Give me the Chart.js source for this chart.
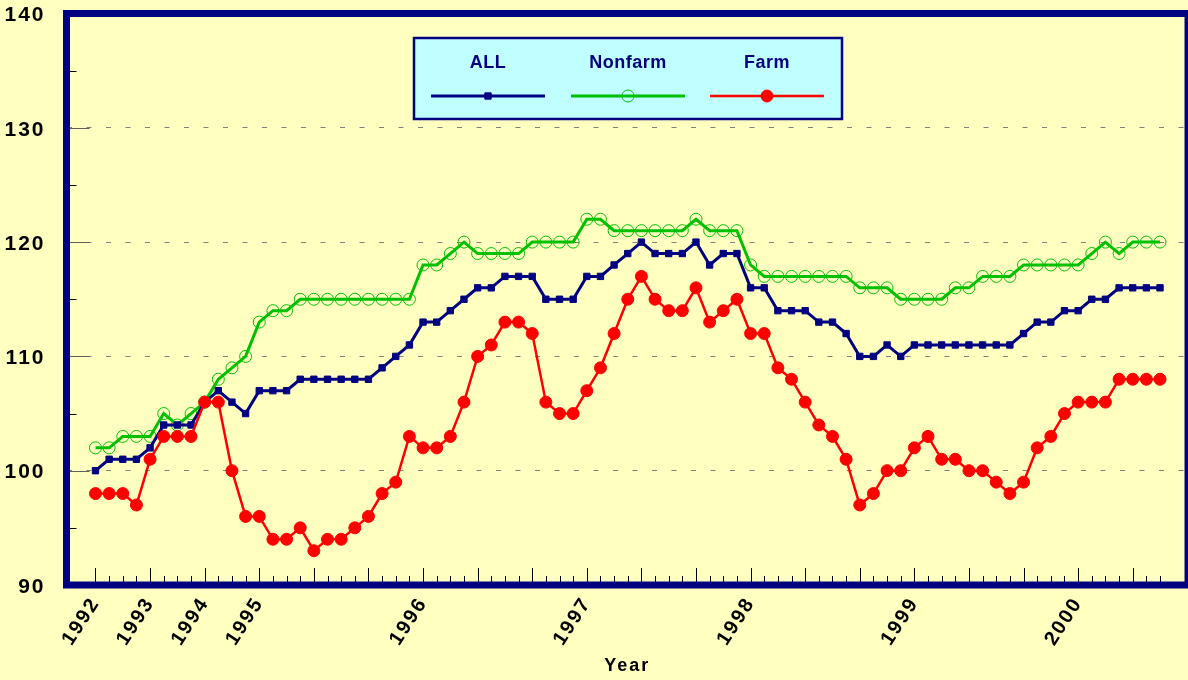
<!DOCTYPE html>
<html>
<head>
<meta charset="utf-8">
<title>Index 1992-2000</title>
<script src="https://cdn.jsdelivr.net/npm/chart.js@4.4.1/dist/chart.umd.min.js"></script>
<style>
  html, body { margin: 0; padding: 0; background: #ffffc0; }
  #wrap { width: 1188px; height: 680px; }
</style>
</head>
<body>
<div id="wrap"><canvas id="indexChart" width="1188" height="680"></canvas></div>
<script>
// quarterly 1992-1994, monthly from 1995 on
const yearLabels = ["1992", "1993", "1994", "1995", "1996", "1997", "1998", "1999", "2000"];
const yearIndex = [0, 4, 8, 12, 24, 36, 48, 60, 72];

const seriesNames = ["ALL", "Nonfarm", "Farm"];

const allValues = [
    100, 101, 101, 101, 102, 104, 104, 104, 106, 107, 106, 105,
    107, 107, 107, 108, 108, 108, 108, 108, 108, 109, 110, 111,
    113, 113, 114, 115, 116, 116, 117, 117, 117, 115, 115, 115,
    117, 117, 118, 119, 120, 119, 119, 119, 120, 118, 119, 119,
    116, 116, 114, 114, 114, 113, 113, 112, 110, 110, 111, 110,
    111, 111, 111, 111, 111, 111, 111, 111, 112, 113, 113, 114,
    114, 115, 115, 116, 116, 116, 116
];
const nonfarmValues = [
    102, 102, 103, 103, 103, 105, 104, 105, 106, 108, 109, 110,
    113, 114, 114, 115, 115, 115, 115, 115, 115, 115, 115, 115,
    118, 118, 119, 120, 119, 119, 119, 119, 120, 120, 120, 120,
    122, 122, 121, 121, 121, 121, 121, 121, 122, 121, 121, 121,
    118, 117, 117, 117, 117, 117, 117, 117, 116, 116, 116, 115,
    115, 115, 115, 116, 116, 117, 117, 117, 118, 118, 118, 118,
    118, 119, 120, 119, 120, 120, 120
];
const farmValues = [
    98, 98, 98, 97, 101, 103, 103, 103, 106, 106, 100, 96,
    96, 94, 94, 95, 93, 94, 94, 95, 96, 98, 99, 103,
    102, 102, 103, 106, 110, 111, 113, 113, 112, 106, 105, 105,
    107, 109, 112, 115, 117, 115, 114, 114, 116, 113, 114, 115,
    112, 112, 109, 108, 106, 104, 103, 101, 97, 98, 100, 100,
    102, 103, 101, 101, 100, 100, 99, 98, 99, 102, 103, 105,
    106, 106, 106, 108, 108, 108, 108
];

const toPoints = arr => arr.map((v, i) => ({ x: i, y: v }));

const NAVY = "#000080";
const FONT = "'Liberation Sans', Arial, sans-serif";

// frame, inside tick marks and the boxed legend
const framePlugin = {
    id: "frame",
    beforeDraw(chart) {
        chart.ctx.letterSpacing = "2px";
    },
    afterDraw(chart) {
        const { ctx, chartArea: a, scales: { x, y } } = chart;
        ctx.save();
        ctx.letterSpacing = "0px";
        ctx.lineWidth = 1;

        ctx.strokeStyle = "#000";
        for (let i = 0; i < allValues.length; i++) {
            const px = Math.round(x.getPixelForValue(i)) + 0.5;
            const len = i % 4 === 0 ? 17 : 9;
            ctx.beginPath();
            ctx.moveTo(px, a.bottom);
            ctx.lineTo(px, a.bottom - len);
            ctx.stroke();
        }
        for (let v = 95; v < 140; v += 5) {
            const py = Math.round(y.getPixelForValue(v)) + 0.5;
            const major = v % 10 === 0;
            ctx.strokeStyle = major ? "#606060" : "#000";
            ctx.beginPath();
            ctx.moveTo(a.left, py);
            ctx.lineTo(a.left + (major ? 23 : 10), py);
            ctx.stroke();
        }

        ctx.strokeStyle = NAVY;
        ctx.lineWidth = 7;
        ctx.strokeRect(a.left, a.top, a.right - a.left, a.bottom - a.top);

        // legend box
        ctx.fillStyle = "#c0ffff";
        ctx.fillRect(414, 38, 428, 81);
        ctx.strokeStyle = NAVY;
        ctx.lineWidth = 2.5;
        ctx.strokeRect(414, 38, 428, 81);

        const centers = [488, 628, 767];
        ctx.font = "bold 18px " + FONT;
        ctx.letterSpacing = "0.5px";
        ctx.textAlign = "center";
        ctx.textBaseline = "middle";
        chart.data.datasets.forEach((ds, j) => {
            const cx = centers[j];
            ctx.fillStyle = NAVY;
            ctx.fillText(ds.label, cx, 63);
            ctx.strokeStyle = ds.borderColor;
            ctx.lineWidth = ds.borderWidth;
            ctx.beginPath();
            ctx.moveTo(cx - 57, 96);
            ctx.lineTo(cx + 57, 96);
            ctx.stroke();
            ctx.fillStyle = ds.pointBackgroundColor;
            ctx.strokeStyle = ds.pointBorderColor;
            ctx.lineWidth = ds.pointBorderWidth;
            Chart.helpers.drawPoint(ctx, {
                pointStyle: ds.pointStyle,
                radius: ds.pointRadius,
                rotation: 0,
                borderWidth: ds.pointBorderWidth
            }, cx, 96);
        });
        ctx.restore();
    }
};

const ctx = document.getElementById("indexChart").getContext("2d");

new Chart(ctx, {
    type: "line",
    data: {
        datasets: [
            {
                label: seriesNames[0],
                data: toPoints(allValues),
                borderColor: NAVY,
                borderWidth: 3,
                pointStyle: "rect",
                pointRadius: 4.5,
                pointBackgroundColor: NAVY,
                pointBorderColor: NAVY,
                pointBorderWidth: 1,
                order: 2
            },
            {
                label: seriesNames[1],
                data: toPoints(nonfarmValues),
                borderColor: "#00c000",
                borderWidth: 3,
                pointStyle: "circle",
                pointRadius: 6,
                pointBackgroundColor: "rgba(0,0,0,0)",
                pointBorderColor: "#00c000",
                pointBorderWidth: 1,
                order: 3
            },
            {
                label: seriesNames[2],
                data: toPoints(farmValues),
                borderColor: "#ff0000",
                borderWidth: 2.5,
                pointStyle: "circle",
                pointRadius: 6,
                pointBackgroundColor: "#ff0000",
                pointBorderColor: "#ff0000",
                pointBorderWidth: 1,
                order: 1
            }
        ]
    },
    options: {
        responsive: false,
        animation: false,
        devicePixelRatio: 1,
        layout: { autoPadding: false, padding: { top: 13.5, right: 0, left: 0, bottom: 0 } },
        plugins: {
            legend: { display: false },
            tooltip: { enabled: false }
        },
        scales: {
            x: {
                type: "linear",
                min: -2.124,
                max: 80.05,
                afterBuildTicks: scale => {
                    scale.ticks = yearIndex.map(v => ({ value: v }));
                },
                afterFit: scale => {
                    scale.height = 95;
                    scale.paddingLeft = 0;
                    scale.paddingRight = 0;
                },
                ticks: {
                    autoSkip: false,
                    minRotation: 57,
                    maxRotation: 57,
                    padding: 8,
                    color: "#000",
                    font: { family: FONT, size: 20, weight: "bold" },
                    callback: value => {
                        const k = yearIndex.indexOf(value);
                        return k >= 0 ? yearLabels[k] : "";
                    }
                },
                grid: { display: false, drawTicks: false },
                border: { display: false },
                title: {
                    display: true,
                    text: "Year",
                    color: "#000",
                    font: { family: FONT, size: 18, weight: "bold" },
                    padding: { top: 0, bottom: 3 }
                }
            },
            y: {
                min: 90,
                max: 140,
                afterFit: scale => {
                    scale.width = 66.5;
                    scale.paddingTop = 0;
                    scale.paddingBottom = 0;
                },
                ticks: {
                    stepSize: 10,
                    padding: 21,
                    labelOffset: 2,
                    color: "#000",
                    font: { family: FONT, size: 21, weight: "bold" }
                },
                grid: { color: "#808080", lineWidth: 1, drawTicks: false },
                border: { display: false, dash: [5, 14.5] }
            }
        }
    },
    plugins: [framePlugin]
});
</script>
</body>
</html>
